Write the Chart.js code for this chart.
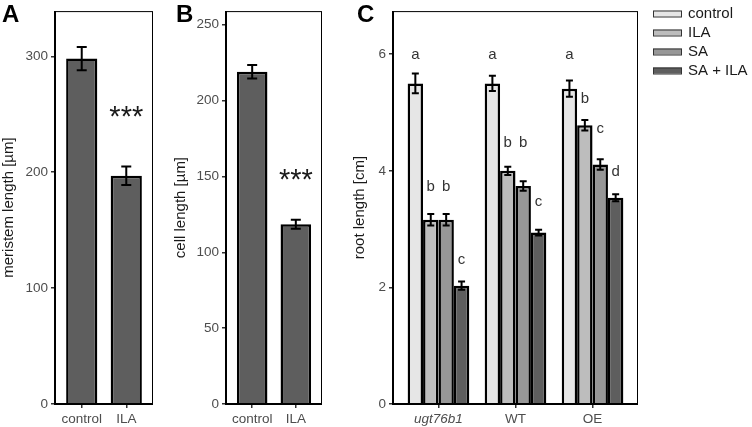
<!DOCTYPE html>
<html>
<head>
<meta charset="utf-8">
<script src="https://cdn.jsdelivr.net/npm/chart.js@4.4.1/dist/chart.umd.min.js"></script>
<style>
  body { margin: 0; background: #fff; width: 752px; height: 427px; position: relative; overflow: hidden; }
  .panel { position: absolute; top: 0; height: 427px; }
</style>
</head>
<body>
<div class="panel" style="left:0;width:160px"><canvas id="chartA"></canvas></div>
<div class="panel" style="left:172px;width:158px"><canvas id="chartB"></canvas></div>
<div class="panel" style="left:351px;width:401px"><canvas id="chartC"></canvas></div>
<script>
const FONT = '"Liberation Sans", Arial, Helvetica, sans-serif';

// A: meristem length
const aCats = ['control', 'ILA'];
const aMeans = [298, 197];
const aErr = [10, 8];
const aSig = ['', '***'];
const aSigY = [0, 254];
const aTicks = [0, 100, 200, 300];

// B: cell length
const bCats = ['control', 'ILA'];
const bMeans = [219, 118.5];
const bErr = [4.5, 3];
const bSig = ['', '***'];
const bSigY = [0, 152.5];
const bTicks = [0, 50, 100, 150, 200, 250];

// C: root length, one row per treatment (ugt76b1, WT, OE)
const genotypes = ['ugt76b1', 'WT', 'OE'];
const treatments = ['control', 'ILA', 'SA', 'SA + ILA'];
const rootMeans = [
  [5.50, 5.50, 5.41],
  [3.16, 4.00, 4.78],
  [3.16, 3.74, 4.11],
  [2.03, 2.94, 3.54],
];
const rootErr = [
  [0.17, 0.13, 0.14],
  [0.10, 0.07, 0.09],
  [0.10, 0.08, 0.09],
  [0.07, 0.05, 0.06],
];
const rootLetters = [
  ['a', 'a', 'a'],
  ['b', 'b', 'b'],
  ['b', 'b', 'c'],
  ['c', 'c', 'd'],
];
const letterY = [
  [6.0, 6.0, 6.0],
  [3.73, 4.49, 5.24],
  [3.73, 4.49, 4.73],
  [2.48, 3.48, 3.99],
];
const cTicks = [0, 2, 4, 6];
const treatColors = ['#e6e6e6', '#bdbdbd', '#979797', '#5e5e5e'];

function font(size, extra) { return Object.assign({ family: FONT, size: size }, extra || {}); }

const tickGrid = { display: true, offset: false, drawOnChartArea: false, drawTicks: true, tickLength: 4, color: '#333', lineWidth: 1.5 };

function yAxis(max, ticks, title, width) {
  return {
    type: 'linear', min: 0, max: max,
    afterBuildTicks: s => { s.ticks = ticks.map(v => ({ value: v })); },
    afterFit: s => { s.width = width; },
    grid: tickGrid,
    border: { display: false },
    ticks: { color: '#4d4d4d', font: font(13.5), padding: 3 },
    title: { display: true, text: title, color: '#1a1a1a', font: font(15), padding: 0 },
  };
}

function xAxis(labels, min, max, italic) {
  return {
    type: 'linear', min: min, max: max, offset: false,
    afterBuildTicks: s => { s.ticks = labels.map((l, i) => ({ value: i + 1 })); },
    afterFit: s => { s.height = 23; },
    grid: tickGrid,
    border: { display: false },
    ticks: {
      color: '#4d4d4d', padding: 3, autoSkip: false, maxRotation: 0,
      font: c => font(13.5, italic && italic.includes(labels[c.index]) ? { style: 'italic' } : {}),
      callback: v => labels[Math.round(v) - 1],
    },
  };
}

// thin box round the panel, heavier left and bottom axis lines
const frame = {
  id: 'frame',
  afterDatasetsDraw(chart) {
    const { ctx, chartArea: a } = chart;
    ctx.save();
    ctx.strokeStyle = '#000';
    ctx.lineWidth = 1;
    ctx.strokeRect(a.left, a.top + 0.5, a.right - a.left - 0.5, a.bottom - a.top);
    ctx.lineWidth = 2;
    ctx.beginPath();
    ctx.moveTo(a.left, a.top);
    ctx.lineTo(a.left, a.bottom);
    ctx.lineTo(a.right, a.bottom);
    ctx.stroke();
    ctx.restore();
  }
};

const errorBars = {
  id: 'errorBars',
  afterDatasetsDraw(chart, args, opts) {
    const { ctx } = chart;
    const y = chart.scales.y;
    chart.data.datasets.forEach((ds, di) => {
      chart.getDatasetMeta(di).data.forEach((bar, i) => {
        const v = ds.data[i].y, e = ds.errors[i];
        const top = y.getPixelForValue(v + e), bot = y.getPixelForValue(v - e);
        ctx.save();
        ctx.strokeStyle = '#000';
        ctx.lineWidth = 2;
        ctx.beginPath();
        ctx.moveTo(bar.x, top); ctx.lineTo(bar.x, bot);
        ctx.moveTo(bar.x - opts.cap, top); ctx.lineTo(bar.x + opts.cap, top);
        ctx.moveTo(bar.x - opts.cap, bot); ctx.lineTo(bar.x + opts.cap, bot);
        ctx.stroke();
        ctx.restore();
      });
    });
  }
};

// significance stars and letters above the bars
const marks = {
  id: 'marks',
  afterDatasetsDraw(chart, args, opts) {
    const { ctx } = chart;
    const y = chart.scales.y;
    chart.data.datasets.forEach((ds, di) => {
      chart.getDatasetMeta(di).data.forEach((bar, i) => {
        const t = ds.marks[i];
        if (!t) return;
        const py = y.getPixelForValue(ds.markY[i]);
        ctx.save();
        ctx.fillStyle = opts.color;
        ctx.font = opts.size + 'px ' + FONT;
        ctx.textAlign = 'center';
        ctx.textBaseline = 'alphabetic';
        ctx.fillText(t, bar.x, py + opts.shift * opts.size);
        ctx.restore();
      });
    });
  }
};

const panelLabel = {
  id: 'panelLabel',
  afterDraw(chart, args, opts) {
    const { ctx } = chart;
    ctx.save();
    ctx.fillStyle = '#000';
    ctx.font = 'bold 24px ' + FONT;
    ctx.textBaseline = 'alphabetic';
    ctx.fillText(opts.text, opts.x, opts.y);
    ctx.restore();
  }
};

const sideLegend = {
  id: 'sideLegend',
  afterDraw(chart, args, opts) {
    const { ctx } = chart;
    chart.data.datasets.forEach((ds, i) => {
      const cy = opts.y + i * opts.step;
      ctx.save();
      ctx.fillStyle = ds.backgroundColor;
      ctx.strokeStyle = '#333';
      ctx.lineWidth = 1;
      ctx.fillRect(opts.x, cy - 3, 29, 6);
      ctx.strokeRect(opts.x + 0.5, cy - 2.5, 28, 6);
      ctx.fillStyle = '#1a1a1a';
      ctx.font = '15px ' + FONT;
      ctx.textBaseline = 'middle';
      ctx.fillText(ds.label, opts.x + 35, cy + 0.5);
      ctx.restore();
    });
  }
};

function simplePanel(id, cats, means, errs, sig, sigY, yMax, ticks, title, axisW, padRight, label, labelX) {
  return new Chart(document.getElementById(id), {
    type: 'bar',
    data: {
      datasets: [{
        data: means.map((v, i) => ({ x: i + 1, y: v })),
        errors: errs,
        marks: sig,
        markY: sigY,
        backgroundColor: '#5e5e5e',
        borderColor: '#000',
        borderWidth: 2.5,
        borderSkipped: 'bottom',
        barPercentage: 0.7,
        categoryPercentage: 1,
      }]
    },
    options: {
      responsive: true, maintainAspectRatio: false, animation: false, devicePixelRatio: 1,
      layout: { padding: { top: 3, right: padRight, left: 0, bottom: 0 } },
      scales: { x: xAxis(cats, 0.4, 2.6), y: yAxis(yMax, ticks, title, axisW) },
      plugins: {
        legend: { display: false }, tooltip: { enabled: false },
        errorBars: { cap: 5 },
        marks: { color: '#1a1a1a', size: 29, shift: 0.575 },
        panelLabel: { text: label, x: labelX, y: 22 },
      }
    },
    plugins: [frame, errorBars, marks, panelLabel]
  });
}

simplePanel('chartA', aCats, aMeans, aErr, aSig, aSigY, 339, aTicks, 'meristem length [µm]', 55, 7, 'A', 2);
simplePanel('chartB', bCats, bMeans, bErr, bSig, bSigY, 259, bTicks, 'cell length [µm]', 54, 8, 'B', 4);

new Chart(document.getElementById('chartC'), {
  type: 'bar',
  data: {
    datasets: treatments.map((t, k) => ({
      label: t,
      data: rootMeans[k].map((v, i) => ({ x: i + 1, y: v })),
      errors: rootErr[k],
      marks: rootLetters[k],
      markY: letterY[k],
      backgroundColor: treatColors[k],
      borderColor: '#000',
      borderWidth: 2.5,
      borderSkipped: 'bottom',
      barPercentage: 1,
      categoryPercentage: 0.8,
    }))
  },
  options: {
    responsive: true, maintainAspectRatio: false, animation: false, devicePixelRatio: 1,
    layout: { padding: { top: 3, right: 114, left: 0, bottom: 0 } },
    scales: { x: xAxis(genotypes, 0.41, 3.59, ['ugt76b1']), y: yAxis(6.74, cTicks, 'root length [cm]', 42) },
    plugins: {
      legend: { display: false }, tooltip: { enabled: false },
      errorBars: { cap: 3.5 },
      marks: { color: '#333', size: 15, shift: 0.3 },
      panelLabel: { text: 'C', x: 6, y: 22 },
      sideLegend: { x: 302, y: 13.5, step: 19 },
    }
  },
  plugins: [frame, errorBars, marks, panelLabel, sideLegend]
});
</script>
</body>
</html>
